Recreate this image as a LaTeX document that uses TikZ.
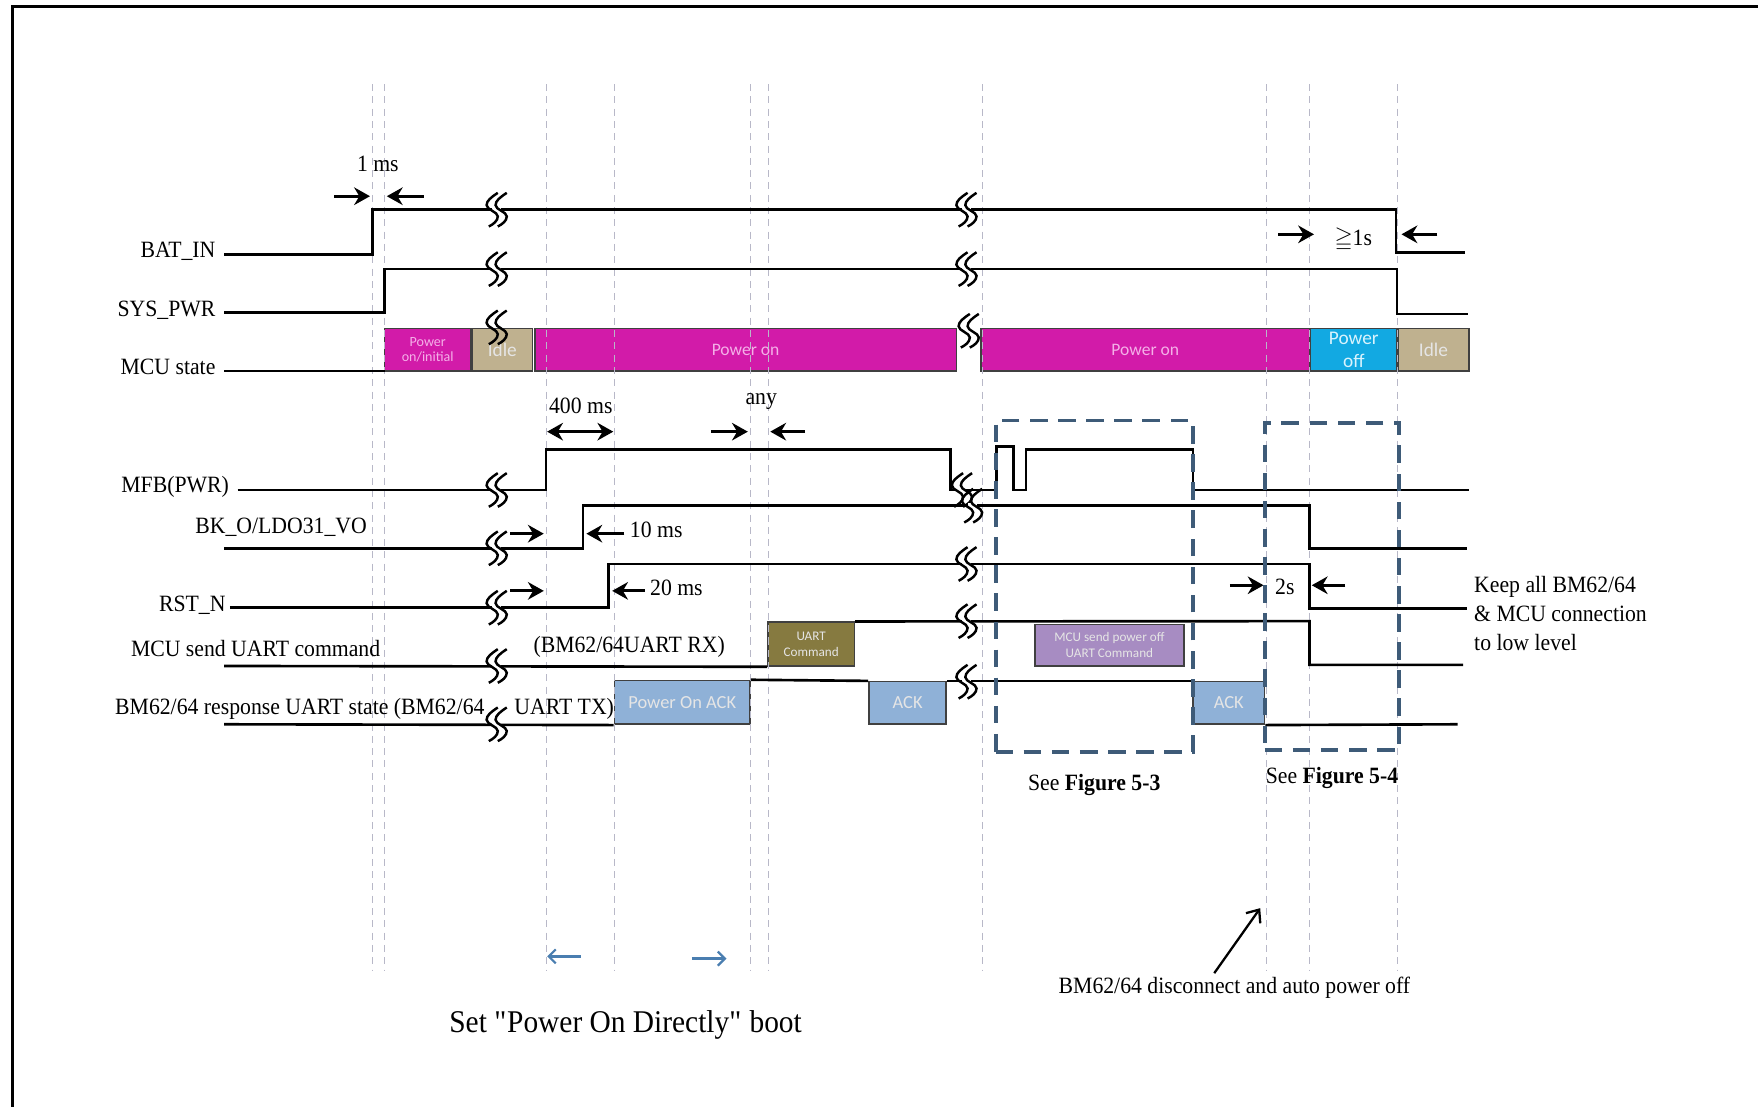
\documentclass[tikz,border=0pt]{standalone}
\usepackage{fontspec}
\usepackage{amssymb}
\setmainfont{Liberation Serif}[FakeStretch=0.93]
\newfontfamily\boxfont{Carlito}
\usepackage{tikz}
\usetikzlibrary{arrows.meta,positioning,fit}
\definecolor{magstate}{HTML}{D21BA9}
\definecolor{tanstate}{HTML}{BFB18F}
\definecolor{cyanstate}{HTML}{12A9E2}
\definecolor{olivecmd}{HTML}{867A40}
\definecolor{lilaccmd}{HTML}{A78CC2}
\definecolor{ackblue}{HTML}{8FB1D7}
\definecolor{zoneblue}{HTML}{3E5B78}
\definecolor{guidegray}{HTML}{B8B8C8}
\definecolor{hintblue}{HTML}{4A7EB0}
\definecolor{pinktext}{HTML}{F4B0E8}

\begin{document}
\begin{tikzpicture}[
		x=0.022424cm, y=-0.022424cm,
		every node/.style={font=\fontsize{13.3}{16.5}\selectfont, inner sep=1pt},
		sigline/.style={line width=1.5pt},
		guide/.style={draw=guidegray, line width=0.5pt, dash pattern=on 4pt off 3pt},
		zone/.style={draw=zoneblue, line width=2.2pt, dash pattern=on 10pt off 6pt, inner sep=0pt},
		state/.style={draw=black!75, line width=0.9pt, inner sep=0pt},
		boxlbl/.style={inner sep=0pt, align=center, font=\boxfont\fontsize{10}{10.5}\selectfont, text=white!90!black},
		small/.style={font=\boxfont\fontsize{7.5}{9}\selectfont},
		dimarrow/.style={-{Stealth[length=9pt, width=10pt]}, line width=1.6pt},
		dimboth/.style={{Stealth[length=9pt, width=10pt]}-{Stealth[length=9pt, width=10pt]}, line width=1.6pt},
		hint/.style={-{Straight Barb[length=4pt, width=8pt]}, line width=1.3pt, draw=hintblue},
		brk/.pic={
			\fill[white] (-4,-2.8) rectangle (4,2.8);
			\foreach \d in {-4,4}
				\draw[line width=1.4pt] (\d+5,-15) .. controls (\d-1,-11) and (\d-5,-8) .. (\d-5,-4) .. controls (\d-5,0) and (\d+5,2) .. (\d+5,6) .. controls (\d+5,10) and (\d+1,13) .. (\d-3,15);
		},
		brkover/.pic={
			\foreach \d in {-4,4}
				\draw[line width=1.4pt] (\d+5,-15) .. controls (\d-1,-11) and (\d-5,-8) .. (\d-5,-4) .. controls (\d-5,0) and (\d+5,2) .. (\d+5,6) .. controls (\d+5,10) and (\d+1,13) .. (\d-3,15);
		}
	]
		\useasboundingbox (0,0) rectangle (1568,987);
		\draw[line width=1.7pt] (11,990) -- (11,6) -- (1570,6);

		\node[state, fill=magstate, fit={(343,293) (420,331)}] (pinit) {};
		\node[state, fill=tanstate, fit={(421,293) (475,331)}] (idle1) {};
		\node[state, fill=magstate, fit={(477,293) (853,331)}] (pon1) {};
		\node[state, fill=magstate, fit={(875,293) (1168,331)}] (pon2) {};
		\node[state, fill=cyanstate, fit={(1169,293) (1246,331)}] (poff) {};
		\node[state, fill=tanstate, fit={(1247,293) (1310,331)}] (idle2) {};
		\node[state, fill=olivecmd, fit={(685,555) (762,594)}] (uartcmd) {};
		\node[state, fill=ackblue, fit={(548,607) (669,646)}] (ponack) {};
		\node[state, fill=ackblue, fit={(775,608) (844,646)}] (ack1) {};
		\node[state, fill=lilaccmd, fit={(923,557) (1056,594)}] (offcmd) {};
		\node[state, fill=ackblue, fit={(1064,608) (1128,646)}] (ack2) {};

		\node[boxlbl, text=pinktext, font=\boxfont\fontsize{8}{9}\selectfont] (pinitlbl) at (pinit) {Power\\on/initial};
		\node[boxlbl, font=\boxfont\fontsize{11}{12}\selectfont] (idle1lbl) at (idle1) {Idle};
		\node[boxlbl, text=pinktext] (pon1lbl) at (pon1) {Power on};
		\node[boxlbl, text=pinktext] (pon2lbl) at (pon2) {Power on};
		\node[boxlbl, text=cyan!15, font=\boxfont\fontsize{11}{13}\selectfont] (pofflbl) at (poff) {Power\\off};
		\node[boxlbl, font=\boxfont\fontsize{11}{12}\selectfont] (idle2lbl) at (idle2) {Idle};
		\node[boxlbl, small] (uartcmdlbl) at (uartcmd) {UART\\Command};
		\node[boxlbl, font=\boxfont\fontsize{10.5}{12}\selectfont] (ponacklbl) at (ponack) {Power On ACK};
		\node[boxlbl, font=\boxfont\fontsize{10.5}{12}\selectfont] (ack1lbl) at (ack1) {ACK};
		\node[boxlbl, small] (offcmdlbl) at (offcmd) {MCU send power off\\UART Command};
		\node[boxlbl, font=\boxfont\fontsize{10.5}{12}\selectfont] (ack2lbl) at (ack2) {ACK};

		\foreach \gx in {332,343,487,548,669,685,876,1130,1168,1246}
			\draw[guide] (\gx,75) -- (\gx,866);

		\node[anchor=east] (batin) at (194,224) {BAT\_IN};
		\node[anchor=east] (syspwr) at (194,277) {SYS\_PWR};
		\node[anchor=east] (mcustate) at (194,327) {MCU state};
		\node[anchor=east] (mfb) at (206,434) {MFB(PWR)};
		\node[anchor=east] (bko) at (329,470) {BK\_O/LDO31\_VO};
		\node[anchor=east] (rstn) at (203,540) {RST\_N};
		\node[anchor=east] (mcusend) at (341,578) {MCU send UART command};
		\node[anchor=east] (bmresp) at (434,632) {BM62/64 response UART state (BM62/64};
		\node[anchor=west] (uarttx) at (457,632) {UART TX)};
		\node[anchor=west] (uartrx) at (474,577) {(BM62/64UART RX)};

		\draw[sigline] (200,227) -- (332,227) -- (332,187) -- (1245,187) -- (1245,225) -- (1307,225);
		\draw[sigline] (200,279) -- (343,279) -- (343,240) -- (1246,240) -- (1246,280) -- (1309,280);
		\draw[sigline] (200,331) -- (343,331);
		\draw[sigline] (212,437) -- (487,437) -- (487,401) -- (848,401) -- (848,437) -- (889,437) -- (889,398) -- (904,398) -- (904,437) -- (915,437) -- (915,401) -- (1064,401) -- (1064,437) -- (1310,437);
		\draw[sigline] (200,489) -- (520,489) -- (520,451) -- (1168,451) -- (1168,489) -- (1308,489);
		\draw[sigline] (205,542) -- (543,542) -- (543,503) -- (1168,503) -- (1168,543) -- (1308,543);
		\draw[sigline] (200,594) -- (uartcmd.south west);
		\draw[sigline] (uartcmd.north east) -- (1168,554) -- (1168,593) -- (1305,593);
		\draw[sigline] (200,646) -- (ponack.south west);
		\draw[sigline] (ponack.north east) -- (ack1.north west);
		\draw[sigline] (ack1.north east) -- (ack2.north west);
		\draw[sigline] (ack2.south east) -- (1300,646);

		\foreach \ry in {187,240,437,489,542,594,646}
			\pic at (443,\ry) {brk};
		\pic at (443,292) {brkover};
		\foreach \ry in {187,240,503,554,608}
			\pic at (862,\ry) {brk};
		\pic at (864,295) {brkover};
		\pic at (858,437) {brk};
		\pic at (867,451) {brk};

		\node (onems) at (337,146) {1 ms};
		\draw[dimarrow] (298,175) -- (330,175);
		\draw[dimarrow] (378,175) -- (345,175);
		\node (geqs) at (1207,214) {$\geqq$1s};
		\draw[dimarrow] (1140,209) -- (1172,209);
		\draw[dimarrow] (1282,209) -- (1250,209);
		\node (fourms) at (518,362) {400 ms};
		\draw[dimboth] (488,385) -- (547,385);
		\node (anyms) at (679,358) {any};
		\draw[dimarrow] (634,385) -- (667,385);
		\draw[dimarrow] (718,385) -- (687,385);
		\node[anchor=west] (tenms) at (560,473) {10 ms};
		\draw[dimarrow] (455,476) -- (485,476);
		\draw[dimarrow] (557,476) -- (523,476);
		\node[anchor=west] (twentyms) at (578,524) {20 ms};
		\draw[dimarrow] (455,527) -- (485,527);
		\draw[dimarrow] (575,527) -- (546,527);
		\node (twos) at (1146,523) {2s};
		\draw[dimarrow] (1097,522) -- (1127,522);
		\draw[dimarrow] (1200,522) -- (1170,522);

		\node[zone, fit={(888,375) (1064,671)}] (zone53) {};
		\node[zone, fit={(1128,377) (1248,669)}] (zone54) {};
		\node[below=3.6mm of zone53] (seefig53) {See \textbf{Figure 5-3}};
		\node[below=2.6mm of zone54] (seefig54) {See \textbf{Figure 5-4}};

		\node[anchor=west, align=left] (keep) at (1313,547) {Keep all BM62/64\\\& MCU connection\\to low level};

		\draw[hint] (518,853) -- (488,853);
		\draw[hint] (617,855) -- (648,855);
		\node[font=\fontsize{18}{21}\selectfont] (boot) at (558,914) {Set \textquotedbl Power On Directly\textquotedbl{} boot};

		\node (disc) at (1101,881) {BM62/64 disconnect and auto power off};
		\coordinate (discfoot) at (1083,868);
		\coordinate (disctip) at (1124,810);
		\draw[-{Straight Barb[length=6pt, width=10pt]}, line width=1.3pt] (discfoot) -- (disctip);
	\end{tikzpicture}
\end{document}
